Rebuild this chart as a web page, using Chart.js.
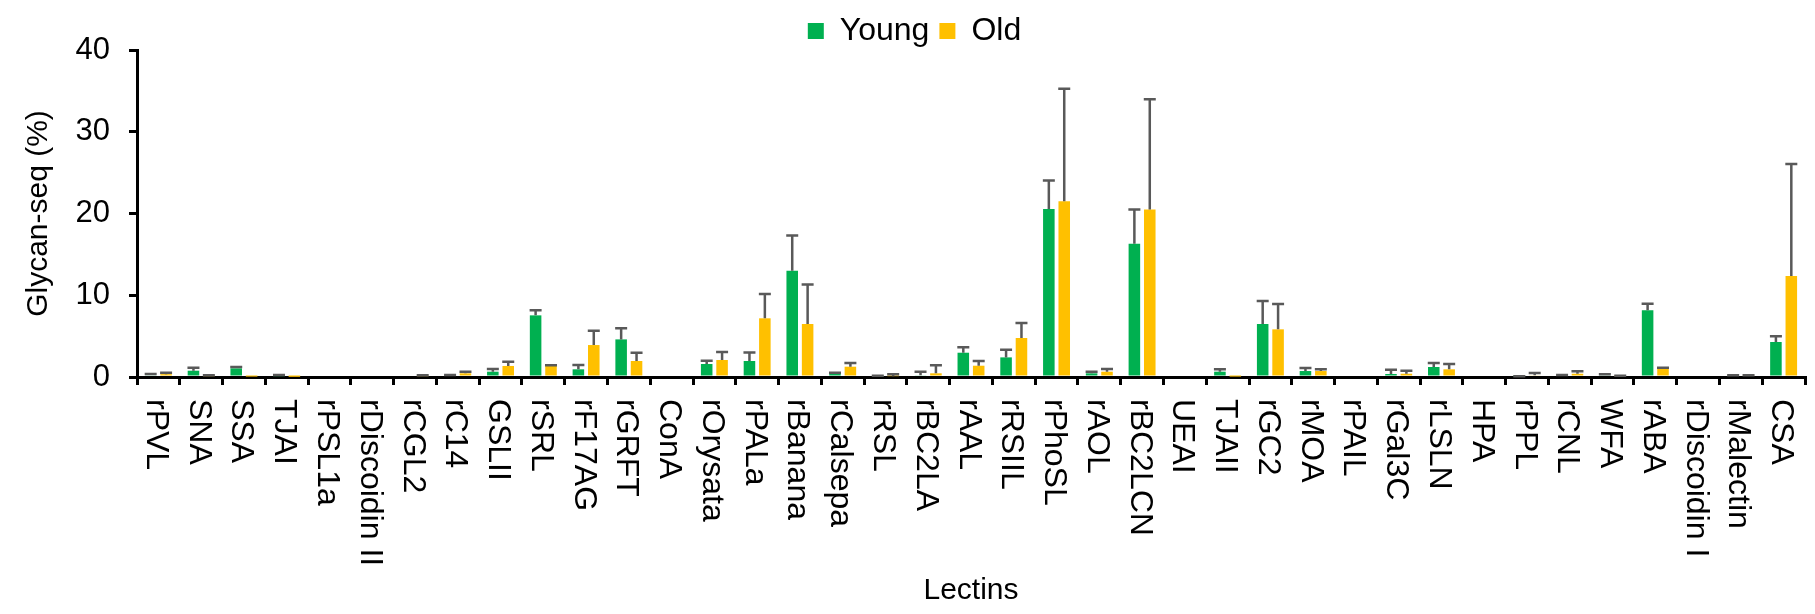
<!DOCTYPE html>
<html>
<head>
<meta charset="utf-8">
<title>Glycan-seq young vs old</title>
<script src="https://cdn.jsdelivr.net/npm/chart.js@4.4.0/dist/chart.umd.min.js"></script>
<style>
  html, body { margin: 0; padding: 0; background: #fff; }
  #wrap { width: 1815px; height: 614px; position: relative; }
</style>
</head>
<body>
<div id="wrap"><canvas id="glycanChart"></canvas></div>
<script>
// ========== DADOS ==========
const lectins = [
  'rPVL', 'SNA', 'SSA', 'TJAI', 'rPSL1a', 'rDiscoidin II', 'rCGL2', 'rC14', 'GSLII', 'rSRL',
  'rF17AG', 'rGRFT', 'ConA', 'rOrysata', 'rPALa', 'rBanana', 'rCalsepa', 'rRSL', 'rBC2LA', 'rAAL',
  'rRSIIL', 'rPhoSL', 'rAOL', 'rBC2LCN', 'UEAI', 'TJAII', 'rGC2', 'rMOA', 'rPAIL', 'rGal3C',
  'rLSLN', 'HPA', 'rPPL', 'rCNL', 'WFA', 'rABA', 'rDiscoidin I', 'rMalectin', 'CSA'
];

const young = [
  0.2, 0.77, 1.06, 0.1, 0, 0, 0, 0.15, 0.65, 7.54,
  0.94, 4.6, 0, 1.59, 1.96, 13.0, 0.45, 0.05, 0.2, 2.97,
  2.4, 20.55, 0.45, 16.3, 0, 0.65, 6.48, 0.73, 0, 0.37,
  1.22, 0, 0.05, 0.2, 0.2, 8.16, 0, 0.15, 4.28
];
const youngErr = [
  0.17, 0.37, 0.16, 0.15, 0, 0, 0, 0.1, 0.33, 0.62,
  0.53, 1.35, 0, 0.41, 1.04, 4.3, 0.08, 0.1, 0.45, 0.66,
  0.94, 3.5, 0.2, 4.2, 0, 0.29, 2.82, 0.37, 0, 0.53,
  0.49, 0, 0.05, 0.05, 0.15, 0.81, 0, 0.05, 0.7
];

const old = [
  0.35, 0.1, 0.05, 0.02, 0, 0, 0.1, 0.45, 1.35, 1.35,
  3.91, 1.96, 0, 2.08, 7.18, 6.48, 1.26, 0.1, 0.45, 1.38,
  4.77, 21.5, 0.65, 20.5, 0, 0.05, 5.83, 0.73, 0, 0.4,
  0.94, 0, 0.2, 0.4, 0.1, 1.02, 0, 0.15, 12.35
];
const oldErr = [
  0.18, 0.1, 0, 0, 0, 0, 0.1, 0.2, 0.52, 0.1,
  1.75, 1.01, 0, 0.98, 2.97, 4.82, 0.44, 0.25, 0.98, 0.58,
  1.83, 13.77, 0.33, 13.47, 0, 0, 3.1, 0.21, 0, 0.37,
  0.65, 0, 0.3, 0.29, 0.05, 0.12, 0, 0.05, 13.7
];

const yTicks = [0, 10, 20, 30, 40];

const FONT = '"Liberation Sans", Arial, sans-serif';

// ========== PLUGINS ==========

// barras de erro (só para cima)
const errorBars = {
  id: 'errorBars',
  afterDatasetsDraw(chart) {
    const ctx = chart.ctx;
    const yScale = chart.scales.y;
    [youngErr, oldErr].forEach((errs, d) => {
      const meta = chart.getDatasetMeta(d);
      const values = chart.data.datasets[d].data;
      meta.data.forEach((bar, i) => {
        const err = errs[i];
        if (!err) return;
        const top = yScale.getPixelForValue(values[i] + err);
        ctx.save();
        ctx.strokeStyle = '#595959';
        ctx.lineWidth = 2.5;
        ctx.beginPath();
        ctx.moveTo(bar.x, bar.y);
        ctx.lineTo(bar.x, top);
        ctx.moveTo(bar.x - 6, top);
        ctx.lineTo(bar.x + 6, top);
        ctx.stroke();
        ctx.restore();
      });
    });
  }
};

// rótulos do eixo x girados 90° (leitura de cima para baixo)
const rotatedLabels = {
  id: 'rotatedLabels',
  afterDraw(chart) {
    const ctx = chart.ctx;
    const xScale = chart.scales.x;
    ctx.save();
    ctx.font = '32px ' + FONT;
    ctx.fillStyle = '#000';
    ctx.textAlign = 'left';
    ctx.textBaseline = 'alphabetic';
    lectins.forEach((name, i) => {
      const x = xScale.getPixelForValue(i);
      ctx.save();
      ctx.translate(x - 11.5, xScale.top + 22);
      ctx.rotate(Math.PI / 2);
      ctx.fillText(name, 0, 0);
      ctx.restore();
    });
    ctx.restore();
  }
};

// ========== GRÁFICO ==========
const ctx = document.getElementById('glycanChart').getContext('2d');
new Chart(ctx, {
  type: 'bar',
  data: {
    labels: lectins,
    datasets: [
      {
        label: 'Young',
        data: young,
        backgroundColor: '#00B050',
        borderWidth: 0,
        categoryPercentage: 0.72,
        barPercentage: 0.75
      },
      {
        label: 'Old',
        data: old,
        backgroundColor: '#FFC000',
        borderWidth: 0,
        categoryPercentage: 0.72,
        barPercentage: 0.75
      }
    ]
  },
  options: {
    responsive: true,
    maintainAspectRatio: false,
    animation: false,
    layout: { padding: { top: 5, right: 10, bottom: 0, left: 24 } },
    plugins: {
      tooltip: { enabled: false },
      legend: {
        position: 'top',
        maxHeight: 45,
        labels: {
          color: '#000',
          font: { family: FONT, size: 32 },
          boxWidth: 16,
          boxHeight: 16,
          padding: 10
        }
      }
    },
    scales: {
      x: {
        offset: true,
        grid: {
          offset: true,
          drawOnChartArea: false,
          drawTicks: true,
          tickLength: 8,
          color: '#000',
          lineWidth: 3
        },
        border: { display: true, color: '#000', width: 3 },
        ticks: { display: false, autoSkip: false },
        title: {
          display: true,
          text: 'Lectins',
          color: '#000',
          font: { family: FONT, size: 30 },
          padding: { top: 0, bottom: 5 }
        },
        afterFit(scale) {
          scale.height = 237;
        }
      },
      y: {
        min: 0,
        max: 40,
        afterBuildTicks(scale) {
          scale.ticks = yTicks.map(v => ({ value: v }));
        },
        grid: {
          drawOnChartArea: false,
          drawTicks: true,
          tickLength: 8,
          color: '#000',
          lineWidth: 3
        },
        border: { display: true, color: '#000', width: 3 },
        ticks: {
          color: '#000',
          font: { family: FONT, size: 31 },
          padding: 19
        },
        title: {
          display: true,
          text: 'Glycan-seq (%)',
          color: '#000',
          font: { family: FONT, size: 30, lineHeight: 1 },
          padding: { top: 0, bottom: 0 }
        },
        afterFit(scale) {
          scale.width = 113;
        }
      }
    }
  },
  plugins: [errorBars, rotatedLabels]
});
</script>
</body>
</html>
